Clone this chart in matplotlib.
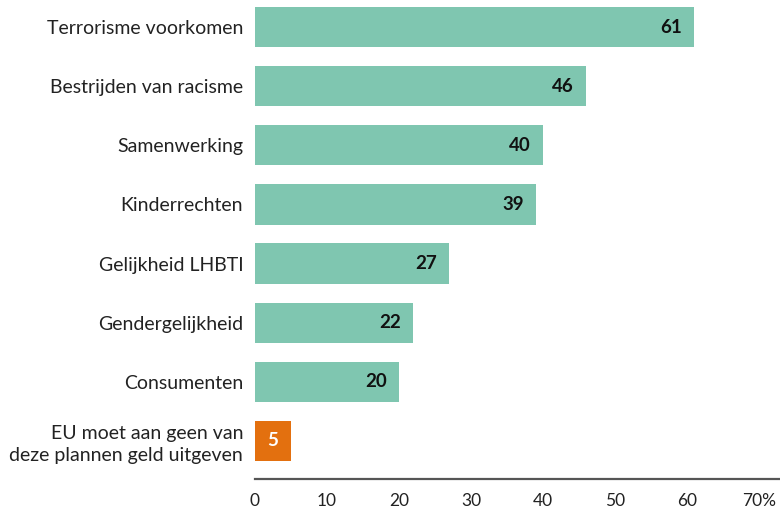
import matplotlib.pyplot as plt

plt.rcParams['font.family'] = ['Lato', 'DejaVu Sans']

categories = ['Terrorisme voorkomen', 'Bestrijden van racisme', 'Samenwerking',
              'Kinderrechten', 'Gelijkheid LHBTI', 'Gendergelijkheid',
              'Consumenten', 'EU moet aan geen van\ndeze plannen geld uitgeven']
values = [61, 46, 40, 39, 27, 22, 20, 5]
colors = ['#7fc6b0'] * 7 + ['#e3700f']
ticks = [0, 10, 20, 30, 40, 50, 60, 70]
tick_labels = ['0', '10', '20', '30', '40', '50', '60', '70%']

fig = plt.figure(figsize=(7.8, 5.09), dpi=100)
ax = fig.add_axes([255 / 780, 1 - 479 / 509, 1 - 255 / 780, 479 / 509])

pos = list(range(len(values)))
ax.barh(pos, values, height=0.68, color=colors)

# value labels
for p, v in zip(pos, values):
    if v < 10:
        ax.text(v / 2, p, str(v), ha='center', va='center', color='white',
                fontsize=13.5, fontweight='bold')
    else:
        ax.text(v - 1.7, p, str(v), ha='right', va='center', color='#111111',
                fontsize=13.5, fontweight='bold')

ax.set_xlim(0, 72.9)
ax.set_ylim(7.643, -0.457)
ax.set_yticks(pos)
ax.set_yticklabels(categories, fontsize=14, color='#222222')
ax.set_xticks(ticks)
ax.set_xticklabels(tick_labels, fontsize=12.5, color='#222222')
ax.tick_params(axis='y', length=0, pad=8.5)
ax.tick_params(axis='x', length=0, pad=10)
for lab in ax.get_yticklabels():
    lab.set_multialignment('right')
    lab.set_linespacing(1.3)

for s in ['top', 'right', 'left']:
    ax.spines[s].set_visible(False)
ax.spines['bottom'].set_color('#555555')
ax.spines['bottom'].set_linewidth(1.6)

fig.savefig('out.png', dpi=100)
